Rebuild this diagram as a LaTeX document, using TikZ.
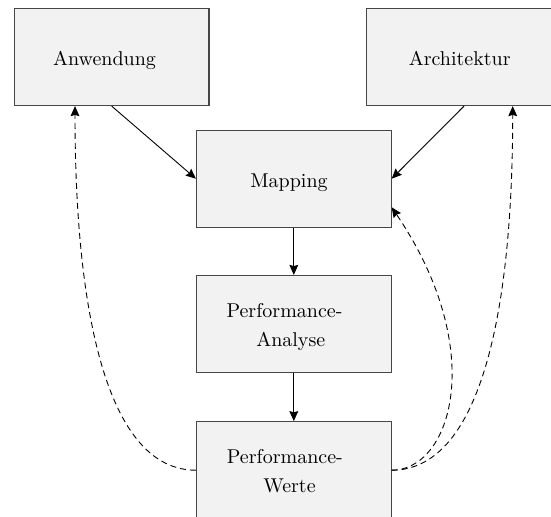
\documentclass[tikz,border=0pt]{standalone}
\usetikzlibrary{arrows.meta,calc}
\definecolor{boxfill}{RGB}{242,242,242}
\definecolor{boxline}{RGB}{70,70,70}
\newcommand\bxline[3]{\raisebox{#2}[0pt][0pt]{\makebox[0pt]{#3\kern#1}}}
\begin{document}
\begin{tikzpicture}[x=0.5pt,y=-0.5pt,
  box/.style={draw=boxline, fill=boxfill, line width=0.6pt,
    minimum width=97.3pt, minimum height=48.5pt, inner sep=0pt},
  conn/.style={line width=0.45pt, -{Stealth[length=5pt,width=4.4pt,inset=0.6pt]}},
  fb/.style={conn, dash pattern=on 3pt off 2pt}]
\useasboundingbox (0,0) rectangle (551,516);
\clip (0,0) rectangle (551,516);
\node[box] (anw) at (111.7,57) {\bxline{7.2pt}{-4pt}{Anwendung}};
\node[box] (arch) at (464,57) {\bxline{4.3pt}{-4.35pt}{Architektur}};
\node[box] (map) at (293.8,178.7) {\bxline{4.8pt}{-4.3pt}{Mapping}};
\node[box] (ana) at (293.8,324) {\bxline{9.3pt}{3.15pt}{Performance-}\bxline{3pt}{-11pt}{Analyse}};
\node[box] (wer) at (293.8,470.2) {\bxline{9pt}{3.3pt}{Performance-}\bxline{4.3pt}{-11.1pt}{Werte}};
\coordinate (anwin) at ($(anw.south)+(-36.7,0)$);
\coordinate (archin) at ($(arch.south)+(48.7,0)$);
\coordinate (mapin) at ($(map.east)+(0,28.6)$);
\draw[conn] (anw.south) -- (map.west);
\draw[conn] (arch.south) -- (map.east);
\draw[conn] (map.south) -- (ana.north);
\draw[conn] (ana.south) -- (wer.north);
\draw[fb] (wer.west) .. controls +(-86.7,0) and +(0,213.3) .. (anwin);
\draw[fb] (wer.east) .. controls +(86.7,0) and +(0,213.3) .. (archin);
\draw[fb] (wer.east) .. controls +(60,0) and +(96.7,142.7) .. (mapin);
\end{tikzpicture}
\end{document}
